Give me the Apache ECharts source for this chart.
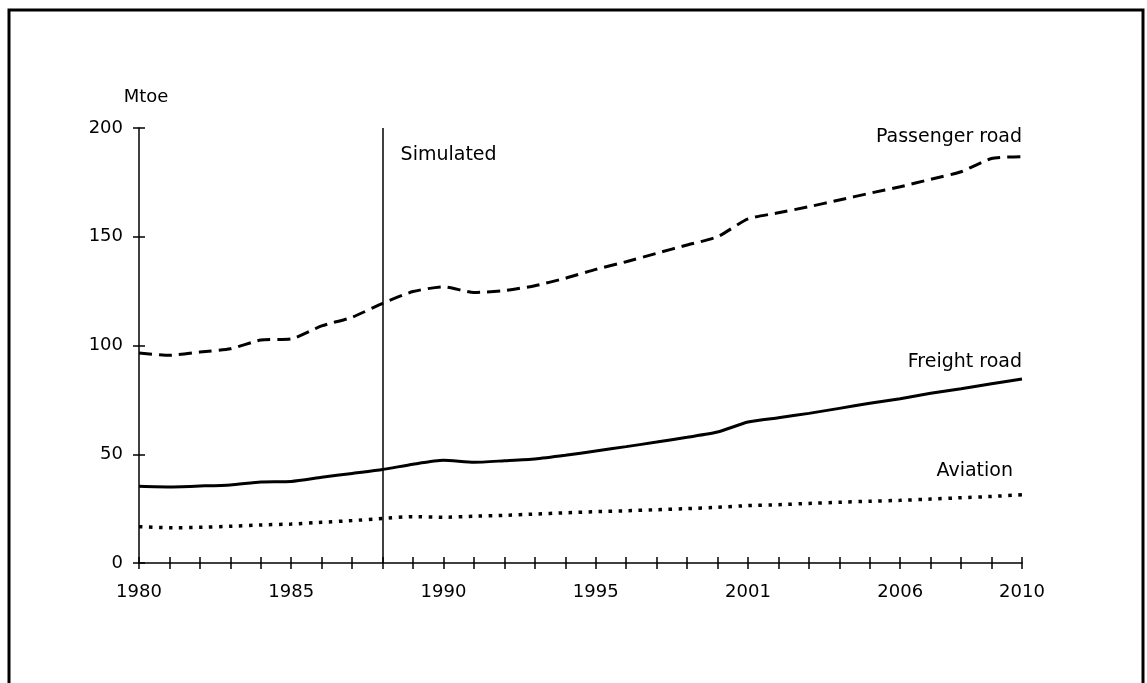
<!DOCTYPE html>
<html>
<head>
<meta charset="utf-8">
<script src="https://cdn.jsdelivr.net/npm/echarts@6/dist/echarts.min.js"></script>
<style>
  html, body { margin: 0; padding: 0; background: #fff; }
  #chart { width: 1147px; height: 683px; }
</style>
</head>
<body>
<div id="chart"></div>
<script>
// years on the axis (2000 is not in the source chart)
const years = ['1980','1981','1982','1983','1984','1985','1986','1987','1988','1989',
  '1990','1991','1992','1993','1994','1995','1996','1997','1998','1999',
  '2001','2002','2003','2004','2005','2006','2007','2008','2009','2010'];
const shownLabels = ['1980','1985','1990','1995','2001','2006','2010'];
const yTicks = [0, 50, 100, 150, 200];

const passengerRoad = [96.5, 95.5, 97, 98.5, 102.5, 103, 109, 113, 119.4, 124.8,
  127, 124.4, 125.2, 127.5, 130.9, 135, 138.5, 142.4, 146.2, 150,
  158.2, 161, 163.8, 166.9, 170, 173, 176.4, 179.9, 186, 186.8];
const freightRoad = [35.3, 35, 35.4, 35.9, 37.2, 37.5, 39.4, 41.2, 43, 45.4,
  47.2, 46.3, 47, 47.8, 49.5, 51.5, 53.5, 55.6, 57.8, 60.2,
  64.8, 66.8, 68.8, 71.1, 73.4, 75.5, 78, 80.1, 82.4, 84.6];
const aviation = [16.7, 16.2, 16.4, 16.9, 17.5, 17.9, 18.7, 19.5, 20.5, 21.3,
  21, 21.5, 21.9, 22.5, 23.1, 23.6, 24, 24.5, 25, 25.6,
  26.4, 26.8, 27.4, 27.9, 28.4, 28.8, 29.4, 30, 30.6, 31.4];
const simulatedFrom = '1988';

const font = 'DejaVu Sans';
const ink = '#000';

const chart = echarts.init(document.getElementById('chart'));

const option = {
  backgroundColor: '#fff',
  animation: false,
  textStyle: { fontFamily: font, color: ink },
  grid: { left: 139, right: 125, top: 128, bottom: 120 },
  xAxis: [
    {
      type: 'category', data: years, boundaryGap: false, position: 'bottom',
      axisLine: { lineStyle: { color: ink, width: 1.5 } },
      axisTick: { interval: 0, length: 6, lineStyle: { color: ink, width: 1.5 } },
      axisLabel: {
        interval: (i, v) => shownLabels.includes(v),
        margin: 20, fontSize: 18, color: ink, fontFamily: font
      },
      splitLine: { show: false }
    },
    {
      // second copy only to draw the tick marks across the line
      type: 'category', data: years, boundaryGap: false, position: 'bottom',
      axisLine: { show: false },
      axisTick: { interval: 0, inside: true, length: 6, lineStyle: { color: ink, width: 1.5 } },
      axisLabel: { show: false },
      splitLine: { show: false }
    }
  ],
  yAxis: [
    {
      type: 'value', position: 'left',
      min: yTicks[0], max: yTicks[yTicks.length - 1], interval: 50,
      name: 'Mtoe', nameLocation: 'end', nameGap: 22,
      nameTextStyle: { fontSize: 18, color: ink, fontFamily: font, align: 'center', padding: [0, 0, 0, 14] },
      axisLine: { show: true, lineStyle: { color: ink, width: 1.5 } },
      axisTick: { show: true, length: 6, lineStyle: { color: ink, width: 1.5 } },
      axisLabel: { margin: 16, fontSize: 18, color: ink, fontFamily: font },
      splitLine: { show: false }
    },
    {
      type: 'value', position: 'left',
      min: yTicks[0], max: yTicks[yTicks.length - 1], interval: 50,
      axisLine: { show: false },
      axisTick: { show: true, inside: true, length: 6, lineStyle: { color: ink, width: 1.5 } },
      axisLabel: { show: false },
      splitLine: { show: false }
    }
  ],
  series: [
    {
      name: 'Passenger road', type: 'line', data: passengerRoad,
      showSymbol: false, smooth: 0.2,
      lineStyle: { color: ink, width: 3, type: [13, 7] },
      markLine: {
        silent: true, symbol: 'none', animation: false,
        lineStyle: { color: ink, width: 1.5, type: 'solid' },
        label: { show: false },
        data: [{ xAxis: simulatedFrom }]
      }
    },
    {
      name: 'Freight road', type: 'line', data: freightRoad,
      showSymbol: false, smooth: 0.2,
      lineStyle: { color: ink, width: 3, type: 'solid' }
    },
    {
      name: 'Aviation', type: 'line', data: aviation,
      showSymbol: false, smooth: 0.2,
      lineStyle: { color: ink, width: 3.5, type: [3.5, 6.5] }
    }
  ]
};
chart.setOption(option);

// series names written above the line ends, plus the "Simulated" note
const last = years.length - 1;
const labelFont = '19px "' + font + '"';
const labelOf = (idx, arr, name, dx, dy) => {
  const p = chart.convertToPixel({ seriesIndex: idx }, [last, arr[last]]);
  return {
    type: 'text', x: p[0] + dx, y: p[1] + dy,
    style: { text: name, fill: ink, font: labelFont, align: 'right', verticalAlign: 'bottom' }
  };
};
const simTop = chart.convertToPixel({ seriesIndex: 0 }, [years.indexOf(simulatedFrom), yTicks[yTicks.length - 1]]);

chart.setOption({
  graphic: [
    {
      type: 'rect', silent: true,
      shape: { x: 9, y: 10, width: 1134, height: 700 },
      style: { fill: 'none', stroke: ink, lineWidth: 3 }
    },
    labelOf(0, passengerRoad, 'Passenger road', 0, -10),
    labelOf(1, freightRoad, 'Freight road', 0, -7),
    labelOf(2, aviation, 'Aviation', -9, -14),
    {
      type: 'text', x: simTop[0] + 18, y: simTop[1] + 27,
      style: { text: 'Simulated', fill: ink, font: labelFont, align: 'left', verticalAlign: 'middle' }
    }
  ]
});
</script>
</body>
</html>
